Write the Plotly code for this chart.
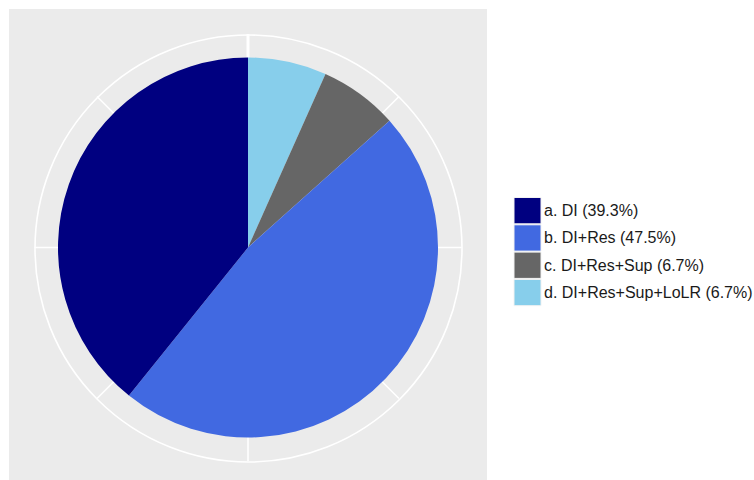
import math
import plotly.graph_objects as go

# Intervention categories and their shares (%)
categories = ["a. DI", "b. DI+Res", "c. DI+Res+Sup", "d. DI+Res+Sup+LoLR"]
shares = [39.3, 47.5, 6.7, 6.7]
colors = ["#000080", "#4169E1", "#666666", "#87CEEB"]

W, H = 754, 480
CX, CY = 248, 247.5       # pie centre (px from top-left)
R_PIE = 190               # pie radius (px)
R_GRID = 213.5            # outer grid circle radius (px)


def px(x):
    return x / W


def py(y):
    return 1 - y / H


fig = go.Figure()

# slices run clockwise from 12 o'clock in reverse stacking order (d, c, b, a)
fig.add_trace(go.Pie(
    labels=categories[::-1],
    values=shares[::-1],
    marker=dict(colors=colors[::-1], line=dict(width=0)),
    sort=False,
    direction="clockwise",
    rotation=0,
    textinfo="none",
    hoverinfo="label+value",
    showlegend=False,
    domain=dict(x=[px(CX - R_PIE), px(CX + R_PIE)],
                y=[py(CY + R_PIE), py(CY - R_PIE)]),
))

shapes = []
# grey panel background
shapes.append(dict(type="rect", xref="paper", yref="paper",
                   x0=px(9), x1=px(487), y0=py(9), y1=py(482),
                   fillcolor="#EBEBEB", line=dict(width=0), layer="below"))
# outer grid circle
shapes.append(dict(type="circle", xref="paper", yref="paper",
                   x0=px(CX - R_GRID + 0.5), x1=px(CX + R_GRID + 0.5),
                   y0=py(CY + R_GRID + 1), y1=py(CY - R_GRID + 1),
                   line=dict(color="white", width=1.6), layer="below"))
# angular grid spokes every 45 degrees
for k in range(8):
    ang = math.radians(90 - 45 * k)
    x1 = CX + R_GRID * math.cos(ang)
    y1 = CY - R_GRID * math.sin(ang)
    shapes.append(dict(type="line", xref="paper", yref="paper",
                       x0=px(CX), y0=py(CY), x1=px(x1), y1=py(y1),
                       line=dict(color="white", width=3 if k == 0 else 1.6),
                       layer="below"))

# legend keys and labels
KEY_X0, KEY_X1 = 514, 541
KEY_Y0, KEY_H = 197, 27.3
annotations = []
for i, (cat, val, col) in enumerate(zip(categories, shares, colors)):
    y0 = KEY_Y0 + i * KEY_H
    shapes.append(dict(type="rect", xref="paper", yref="paper",
                       x0=px(KEY_X0), x1=px(KEY_X1),
                       y0=py(y0 + KEY_H - 0.5), y1=py(y0 + 0.5),
                       fillcolor=col, line=dict(color="#F2F2F2", width=1)))
    annotations.append(dict(
        xref="paper", yref="paper", x=px(KEY_X1 + 1), y=py(y0 + KEY_H / 2),
        xanchor="left", yanchor="middle", showarrow=False,
        text=f"{cat} ({val:.1f}%)",
        font=dict(family="Liberation Sans, Arial, sans-serif", size=16,
                  color="#1A1A1A"),
    ))

fig.update_layout(
    width=W, height=H,
    margin=dict(l=0, r=0, t=0, b=0),
    paper_bgcolor="white",
    plot_bgcolor="white",
    shapes=shapes,
    annotations=annotations,
)

fig.write_html("out.html")
